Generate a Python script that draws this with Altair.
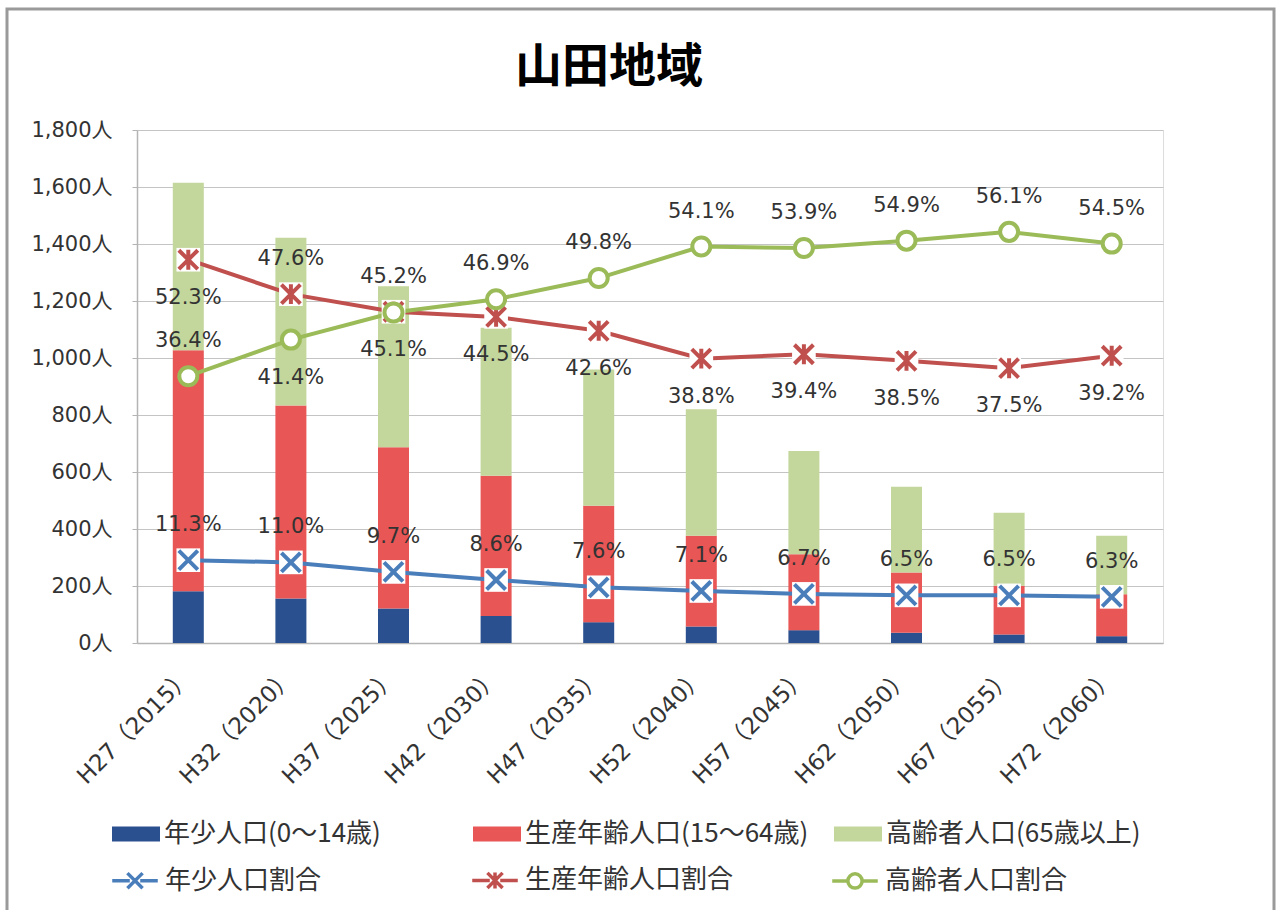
import altair as alt
import pandas as pd

# ---------------- data ----------------
categories = ["H27（2015）", "H32（2020）", "H37（2025）", "H42（2030）", "H47（2035）",
              "H52（2040）", "H57（2045）", "H62（2050）", "H67（2055）", "H72（2060）"]
young_pop = [182, 156, 121, 95, 73, 58, 45, 36, 30, 24]
working_pop = [845, 677, 566, 492, 409, 318, 266, 211, 171, 147]
elderly_pop = [588, 589, 565, 519, 478, 444, 363, 301, 256, 205]
young_rate = [11.3, 11.0, 9.7, 8.6, 7.6, 7.1, 6.7, 6.5, 6.5, 6.3]
working_rate = [52.3, 47.6, 45.2, 44.5, 42.6, 38.8, 39.4, 38.5, 37.5, 39.2]
elderly_rate = [36.4, 41.4, 45.1, 46.9, 49.8, 54.1, 53.9, 54.9, 56.1, 54.5]
pop_groups = ["年少人口(0～14歳)", "生産年齢人口(15～64歳)", "高齢者人口(65歳以上)"]
rate_series = ["年少人口割合", "生産年齢人口割合", "高齢者人口割合"]
left_ticks = [0, 200, 400, 600, 800, 1000, 1200, 1400, 1600, 1800]
right_ticks = [0.0, 0.1, 0.2, 0.3, 0.4, 0.5, 0.6, 0.7]
# categories where the working-age label sits above and the elderly label below
swapped = ["H32（2020）", "H37（2025）"]

pop_colors = ["#2A5090", "#E95656", "#C3D69B"]
rate_colors = ["#4A7EBB", "#C0504D", "#9BBB59"]

FONT = "DejaVu Sans, Noto Sans CJK JP"
JFONT = "Noto Sans CJK JP"
GRAY = "#b4b4b4"
TXT = "#333333"

rows = []
for i, c in enumerate(categories):
    for k, (g, vals) in enumerate(zip(pop_groups, [young_pop, working_pop, elderly_pop])):
        rows.append({"category": c, "group": g, "value": vals[i], "order": k})
bars_df = pd.DataFrame(rows)

rrows = []
for i, c in enumerate(categories):
    for k, (s, vals) in enumerate(zip(rate_series, [young_rate, working_rate, elderly_rate])):
        if k == 0:
            pos = "above"
        elif k == 1:
            pos = "above" if c in swapped else "below"
        else:
            pos = "below" if c in swapped else "above"
        rrows.append({"category": c, "series": s, "rate": vals[i] / 100.0,
                      "label": f"{vals[i]:.1f}%", "pos": pos})
rates_df = pd.DataFrame(rrows)

# marker paths (unit square -1..1)
X_PATH = "M-1,-1L1,1M-1,1L1,-1"
STAR_PATH = "M-1,-1L1,1M-1,1L1,-1M0,-1.05L0,1.05"
CIRC_PATH = "M0.95,0A0.95,0.95 0 1,1 -0.95,0A0.95,0.95 0 1,1 0.95,0Z"
LEG_X = "M-2.4,0H-0.55M0.55,0H2.4M-0.8,-0.8L0.8,0.8M-0.8,0.8L0.8,-0.8"
LEG_STAR = "M-2.4,0H-0.55M0.55,0H2.4M-0.8,-0.8L0.8,0.8M-0.8,0.8L0.8,-0.8M0,-0.85L0,0.85"
LEG_CIRC = "M-2.4,0H-0.75M0.75,0H2.4M0.75,0A0.75,0.75 0 1,1 -0.75,0A0.75,0.75 0 1,1 0.75,0Z"
marker_paths = [X_PATH, STAR_PATH, CIRC_PATH]

x_enc = alt.X("category:N", sort=categories, title=None,
              scale=alt.Scale(paddingInner=0, paddingOuter=0),
              axis=alt.Axis(labelAngle=-45, labelAlign="right", labelBaseline="middle",
                            labelFont=FONT, labelFontSize=23, labelColor=TXT,
                            ticks=False, labelPadding=30, domainColor=GRAY, domainWidth=1.5))

fill_legend = alt.Legend(title=None, orient="none", legendX=-16, legendY=689,
                         direction="horizontal", columns=3, gridAlign="all", columnPadding=25,
                         symbolType="M-1.6,-0.5H1.6V0.5H-1.6Z", symbolSize=900,
                         symbolStrokeWidth=0, labelOffset=13, labelFont=JFONT,
                         labelFontSize=26, labelColor=TXT, labelLimit=500)

line_legend = alt.Legend(title=None, orient="none", legendX=-15, legendY=737,
                         direction="horizontal", columns=3, gridAlign="all", columnPadding=91,
                         symbolSize=360, symbolStrokeWidth=3.5, symbolFillColor="white",
                         symbolOpacity=1,
                         labelOffset=17, labelFont=JFONT, labelFontSize=26, labelColor=TXT,
                         labelLimit=500)

color_scale = alt.Scale(domain=rate_series, range=rate_colors)

# decorative outer frame of the chart picture
frame = alt.Chart(pd.DataFrame({"frame": [0]})).mark_rect(
    filled=False, stroke="#9a9a9a", strokeWidth=3).encode(
    x=alt.value(-130), x2=alt.value(1137), y=alt.value(-121), y2=alt.value(800))

bars = alt.Chart(bars_df).mark_bar(size=31).encode(
    x=x_enc,
    y=alt.Y("value:Q", stack="zero", title=None, scale=alt.Scale(domain=[0, 1800]),
            axis=alt.Axis(orient="left", values=left_ticks,
                          labelExpr="format(datum.value, ',') + '人'",
                          labelFont=FONT, labelFontSize=21, labelColor=TXT,
                          tickSize=5, tickColor=GRAY, domainColor=GRAY, domainWidth=1.5,
                          gridColor="#c4c4c4", gridWidth=1.2, labelPadding=20)),
    fill=alt.Fill("group:N", scale=alt.Scale(domain=pop_groups, range=pop_colors),
                  legend=fill_legend),
    order=alt.Order("order:Q"),
)

y_rate = alt.Y("rate:Q", title=None, scale=alt.Scale(domain=[0, 0.7]),
               axis=alt.Axis(orient="right", values=right_ticks, format=".1%", grid=False,
                             labelFont=FONT, labelFontSize=21, labelColor=TXT,
                             tickSize=8, tickColor=GRAY, domainColor=GRAY, domainWidth=1.5,
                             labelPadding=25))
y_rate_noaxis = alt.Y("rate:Q", title=None, axis=None)

stroke_enc = alt.Stroke("series:N", scale=color_scale, legend=line_legend)

base = alt.Chart(rates_df)

lines = base.mark_line(strokeWidth=4).encode(x=x_enc, y=y_rate, stroke=stroke_enc)

backs = base.transform_filter(
    alt.FieldOneOfPredicate(field="series", oneOf=rate_series[:2])
).mark_square(filled=True, color="white", size=560, opacity=1).encode(x=x_enc, y=y_rate_noaxis)

marker_layers = []
for s, path, col in zip(rate_series, marker_paths, rate_colors):
    marker_layers.append(
        base.transform_filter(alt.datum.series == s).mark_point(
            shape=path, filled=False, fill="white", stroke=col, strokeWidth=4, size=360,
            opacity=1).encode(x=x_enc, y=y_rate_noaxis))

# invisible layer that only carries the legend symbols for the ratio lines
legend_layer = base.mark_point(filled=False, fill="white", size=360, opacity=0).encode(
    x=x_enc, y=y_rate_noaxis,
    stroke=stroke_enc,
    shape=alt.Shape("series:N", scale=alt.Scale(domain=rate_series,
                                                range=[LEG_X, LEG_STAR, LEG_CIRC]),
                    legend=line_legend),
)

lab_above = base.transform_filter(alt.datum.pos == "above").mark_text(
    font=FONT, fontSize=21, color=TXT, dy=-35).encode(x=x_enc, y=y_rate_noaxis, text="label:N")
lab_below = base.transform_filter(alt.datum.pos == "below").mark_text(
    font=FONT, fontSize=21, color=TXT, dy=38).encode(x=x_enc, y=y_rate_noaxis, text="label:N")

rate_layer = alt.layer(lines, backs, *marker_layers, legend_layer, lab_above, lab_below)

chart = alt.layer(frame, bars, rate_layer).resolve_scale(y="independent").properties(
    width=1026, height=513,
    title=alt.Title("山田地域", font=JFONT, fontSize=47, fontWeight="bold", color="#000000",
                    anchor="middle", dx=-41, offset=-84),
    autosize=alt.AutoSizeParams(type="none"),
    padding={"left": 137, "top": 130, "right": 113, "bottom": 267},
).configure_view(stroke=None).configure(background="white")

chart.save("out.html", embed_options={"renderer": "svg", "actions": False})
